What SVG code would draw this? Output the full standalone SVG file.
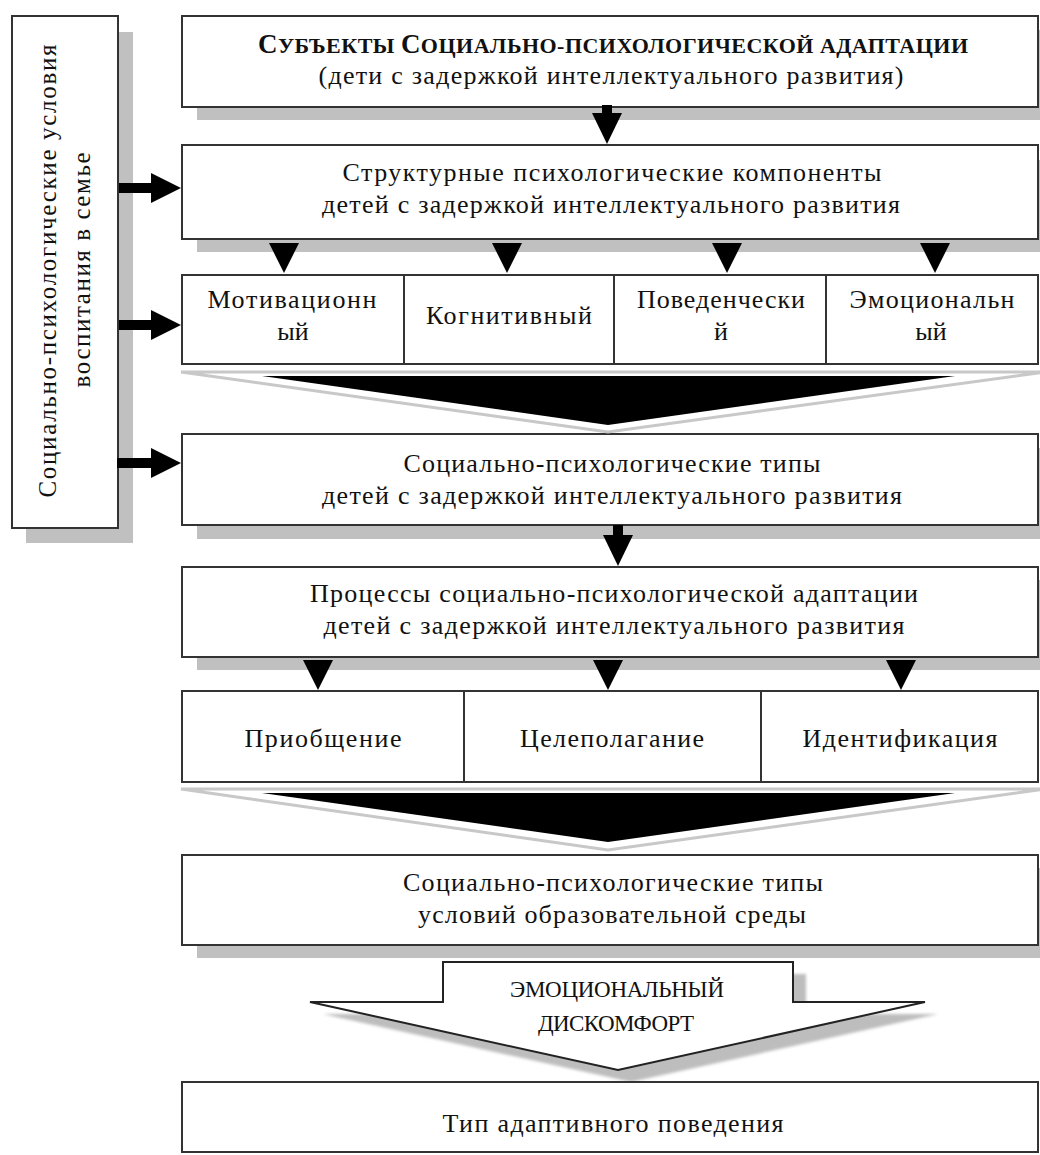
<svg xmlns="http://www.w3.org/2000/svg" width="1040" height="1155" viewBox="0 0 1040 1155">
<defs>
<style>
.box{fill:#fff;stroke:#333;stroke-width:2}
.sh{fill:#c0c0c0}
.t{font-family:"Liberation Serif","Times New Roman",serif;font-size:26px;fill:#111;text-anchor:middle}
.cap{font-family:"Liberation Serif","Times New Roman",serif;font-size:23px;fill:#111;text-anchor:middle}
.ttl{font-family:"Liberation Serif","Times New Roman",serif;font-size:22px;font-weight:bold;fill:#111;text-anchor:middle}
.vt{font-family:"Liberation Serif","Times New Roman",serif;font-size:25px;fill:#111;text-anchor:middle}
.arr{fill:#000}
.chev{fill:#fff;stroke:#c8c8c8;stroke-width:3}
</style>
<filter id="blur" x="-10%" y="-10%" width="120%" height="120%"><feGaussianBlur stdDeviation="1.5"/></filter>
</defs>
<rect width="1040" height="1155" fill="#fff"/>

<g id="family-conditions">
<rect class="sh" x="26" y="32" width="107" height="511"/>
<rect class="box" x="12" y="16" width="106" height="512"/>
<text class="vt" transform="translate(56,271) rotate(-90)" textLength="453" lengthAdjust="spacing">Социально-психологические условия</text>
<text class="vt" transform="translate(90,270) rotate(-90)" textLength="235" lengthAdjust="spacing">воспитания в семье</text>
</g>

<g id="subjects">
<rect class="sh" x="197" y="30" width="860" height="90"/>
<rect class="box" x="182" y="16" width="856" height="91"/>
<text class="ttl" x="613" y="53" textLength="710" lengthAdjust="spacing"><tspan font-size="27">С</tspan>УБЪЕКТЫ <tspan font-size="27">С</tspan>ОЦИАЛЬНО-ПСИХОЛОГИЧЕСКОЙ АДАПТАЦИИ</text>
<text class="t" x="611" y="84" textLength="585" lengthAdjust="spacing">(дети с задержкой интеллектуального развития)</text>
</g>

<g id="components">
<rect class="sh" x="197" y="160" width="860" height="92"/>
<rect class="box" x="182" y="145" width="856" height="94"/>
<text class="t" x="612" y="181" textLength="539" lengthAdjust="spacing">Структурные психологические компоненты</text>
<text class="t" x="611" y="213" textLength="578" lengthAdjust="spacing">детей с задержкой интеллектуального развития</text>
</g>

<g id="component-row">
<rect class="box" x="182" y="275" width="856" height="89"/>
<line x1="404" y1="275" x2="404" y2="364" stroke="#333" stroke-width="2"/>
<line x1="614" y1="275" x2="614" y2="364" stroke="#333" stroke-width="2"/>
<line x1="826" y1="275" x2="826" y2="364" stroke="#333" stroke-width="2"/>
</g>
<g id="motivational">
<text class="t" x="292" y="308" textLength="169" lengthAdjust="spacing">Мотивационн</text>
<text class="t" x="293" y="340">ый</text>
</g>
<g id="cognitive">
<text class="t" x="509" y="324" textLength="166" lengthAdjust="spacing">Когнитивный</text>
</g>
<g id="behavioral">
<text class="t" x="721" y="308" textLength="168" lengthAdjust="spacing">Поведенчески</text>
<text class="t" x="721" y="340">й</text>
</g>
<g id="emotional">
<text class="t" x="932" y="308" textLength="165" lengthAdjust="spacing">Эмоциональн</text>
<text class="t" x="931" y="340">ый</text>
</g>

<g id="soc-types">
<rect class="sh" x="197" y="448" width="860" height="91"/>
<rect class="box" x="182" y="434" width="856" height="91"/>
<text class="t" x="612" y="472" textLength="417" lengthAdjust="spacing">Социально-психологические типы</text>
<text class="t" x="612" y="504" textLength="580" lengthAdjust="spacing">детей с задержкой интеллектуального развития</text>
</g>

<g id="processes">
<rect class="sh" x="197" y="580" width="860" height="90"/>
<rect class="box" x="182" y="567" width="856" height="90"/>
<text class="t" x="614" y="602" textLength="608" lengthAdjust="spacing">Процессы социально-психологической адаптации</text>
<text class="t" x="614" y="634" textLength="581" lengthAdjust="spacing">детей с задержкой интеллектуального развития</text>
</g>

<g id="process-row">
<rect class="box" x="182" y="691" width="856" height="91"/>
<line x1="464" y1="691" x2="464" y2="782" stroke="#333" stroke-width="2"/>
<line x1="761" y1="691" x2="761" y2="782" stroke="#333" stroke-width="2"/>
</g>
<g id="joining"><text class="t" x="323" y="747" textLength="157" lengthAdjust="spacing">Приобщение</text></g>
<g id="goal-setting"><text class="t" x="612" y="747" textLength="184" lengthAdjust="spacing">Целеполагание</text></g>
<g id="identification"><text class="t" x="900" y="747" textLength="195" lengthAdjust="spacing">Идентификация</text></g>

<g id="env-types">
<rect class="sh" x="197" y="868" width="860" height="90"/>
<rect class="box" x="182" y="855" width="856" height="90"/>
<text class="t" x="613" y="891" textLength="420" lengthAdjust="spacing">Социально-психологические типы</text>
<text class="t" x="612" y="923" textLength="388" lengthAdjust="spacing">условий образовательной среды</text>
</g>

<g id="discomfort">
<polygon points="456,974 806,974 806,1014 938,1014 631,1082 323,1014 456,1014" fill="#bdbdbd" filter="url(#blur)"/>
<polygon points="443,962 793,962 793,1002 925,1002 618,1070 310,1002 443,1002" fill="#fff" stroke="#222" stroke-width="2" stroke-linejoin="miter"/>
<text class="cap" x="617" y="997" textLength="214" lengthAdjust="spacing">ЭМОЦИОНАЛЬНЫЙ</text>
<text class="cap" x="616" y="1031" textLength="156" lengthAdjust="spacing">ДИСКОМФОРТ</text>
</g>

<g id="adaptive-behavior">
<rect class="box" x="182" y="1082" width="856" height="70"/>
<text class="t" x="613" y="1132" textLength="341" lengthAdjust="spacing">Тип адаптивного поведения</text>
</g>

<g id="connectors">
<rect class="arr" x="602" y="105" width="10" height="9"/><polygon class="arr" points="592,113 622,113 607,144"/>
<polygon class="arr" points="269,243 299,243 284,273"/>
<polygon class="arr" points="492,243 522,243 507,273"/>
<polygon class="arr" points="712,243 742,243 727,273"/>
<polygon class="arr" points="920,243 950,243 935,273"/>
<rect class="arr" x="613" y="525" width="10" height="10"/><polygon class="arr" points="603,535 633,535 618,566"/>
<polygon class="arr" points="303,660 333,660 318,690"/>
<polygon class="arr" points="593,660 623,660 608,690"/>
<polygon class="arr" points="886,660 916,660 901,690"/>
<rect class="arr" x="119" y="183" width="33" height="10"/><polygon class="arr" points="151,173 151,203 181,188"/>
<rect class="arr" x="119" y="320" width="33" height="10"/><polygon class="arr" points="151,310 151,340 181,325"/>
<rect class="arr" x="117" y="458" width="35" height="10"/><polygon class="arr" points="151,448 151,478 181,463"/>
<polygon class="chev" points="181,372 1045,372 608,432"/>
<polygon class="arr" points="262,376 955,376 608,425"/>
<polygon class="chev" points="181,789 1045,789 608,850"/>
<polygon class="arr" points="262,793 955,793 608,842"/>
</g>
</svg>
